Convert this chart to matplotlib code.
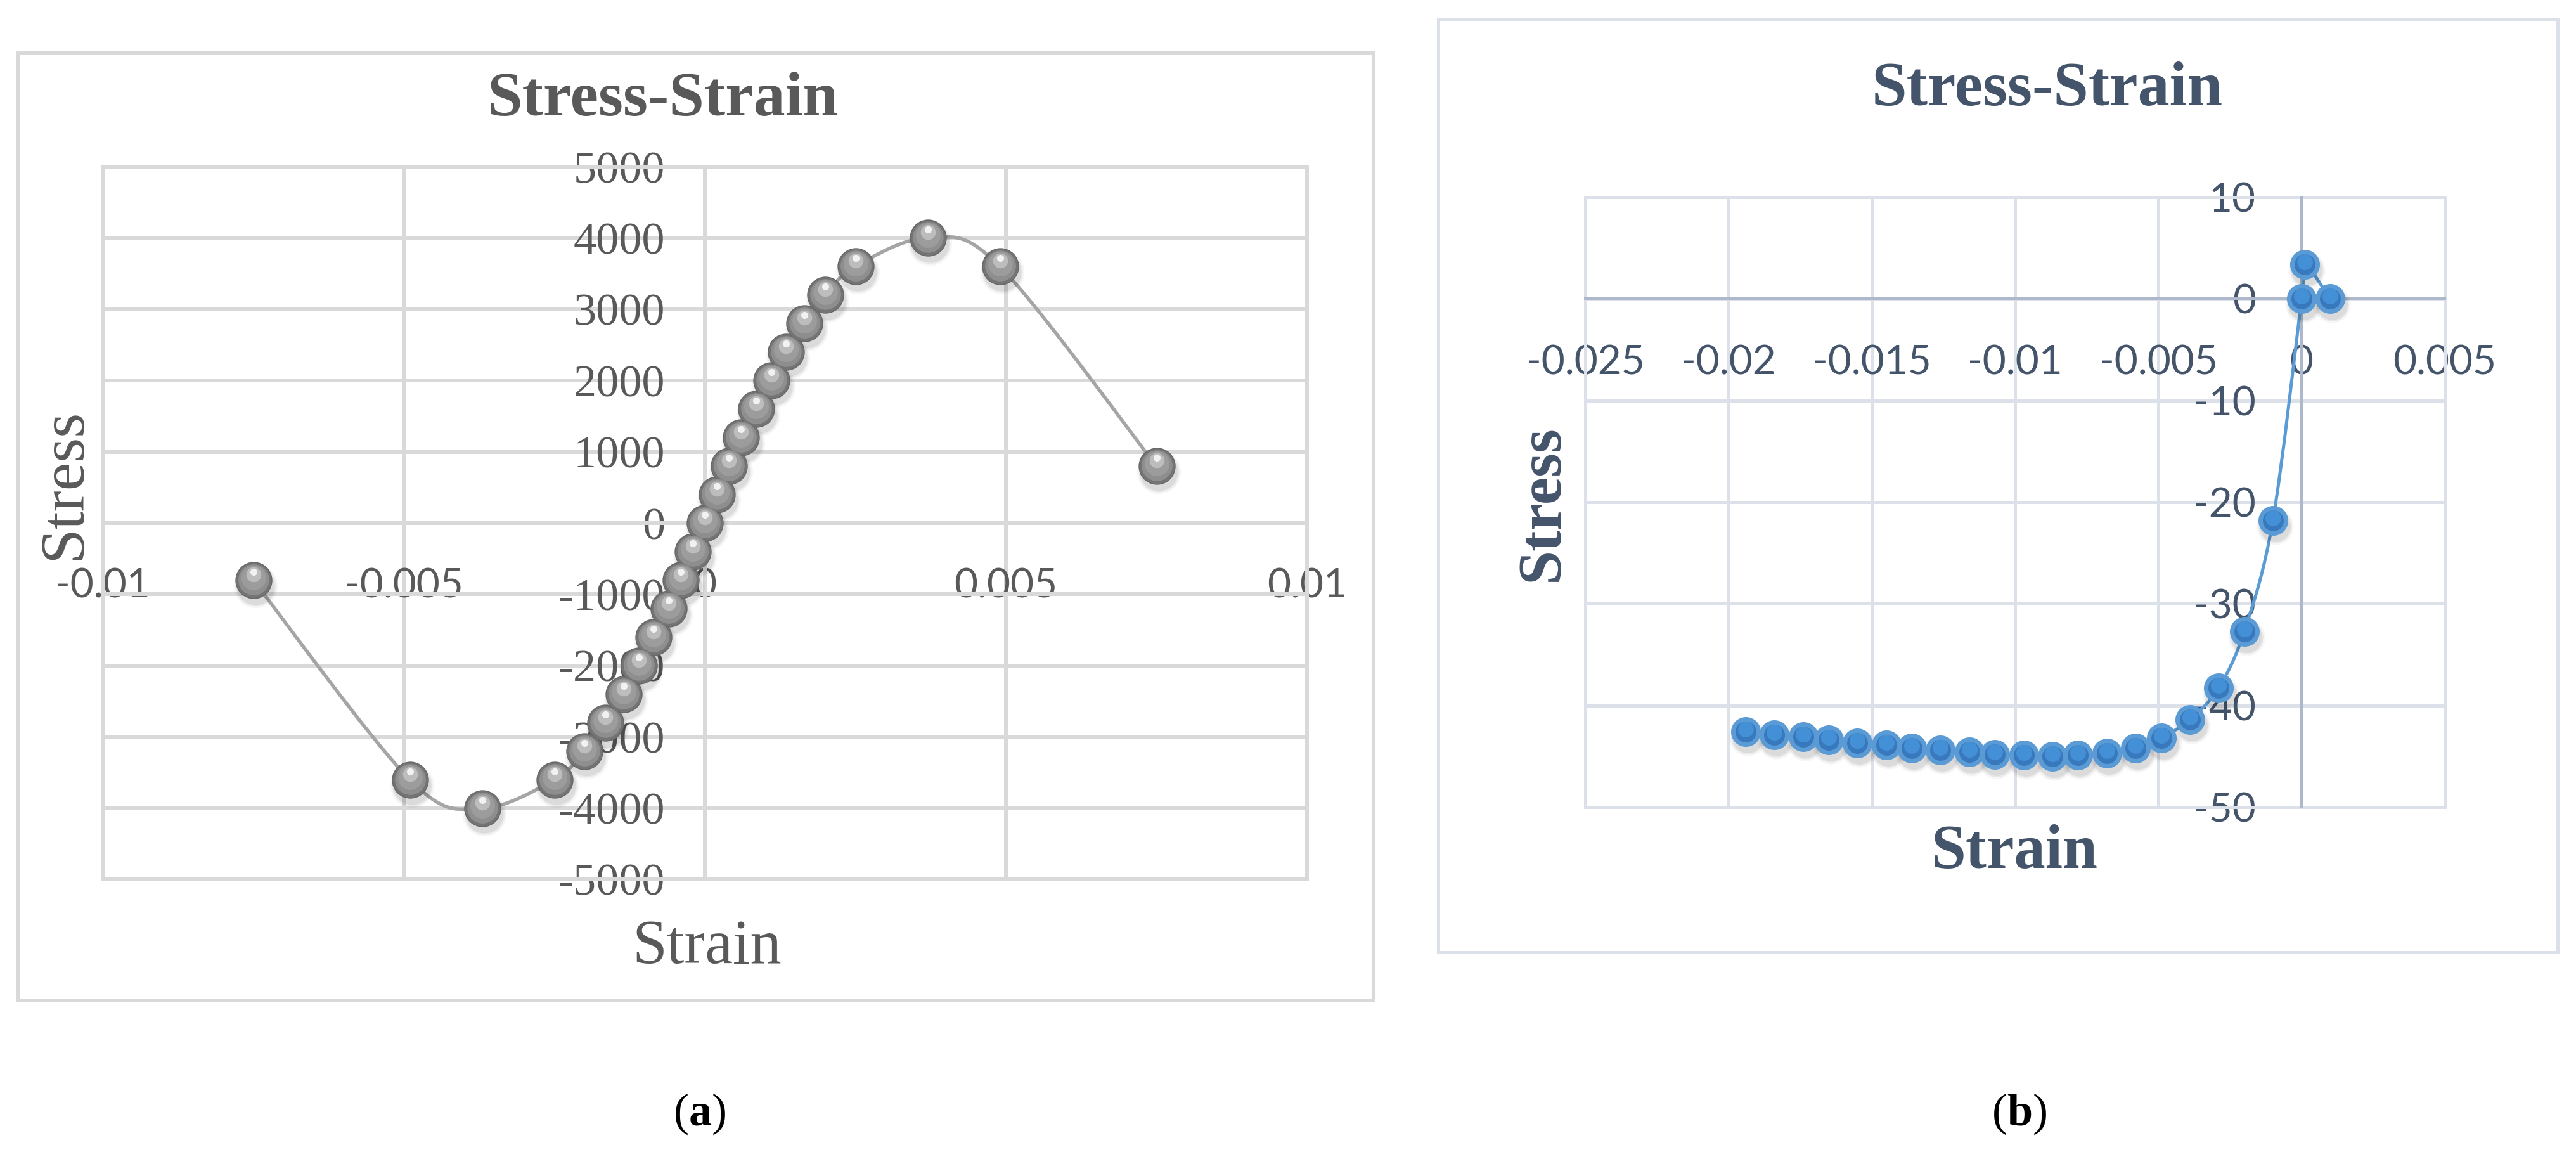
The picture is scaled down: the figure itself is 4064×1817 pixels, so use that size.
"""Two Excel-style stress-strain charts side by side, labelled (a) and (b)."""

import matplotlib

matplotlib.use("Agg")

import matplotlib.pyplot as plt  # noqa: E402
import numpy as np  # noqa: E402
from matplotlib.patches import PathPatch, Rectangle  # noqa: E402
from matplotlib.path import Path  # noqa: E402
from matplotlib.transforms import offset_copy  # noqa: E402

W, H = 4064, 1817
DPI = 100

# ---- data, panel (a) -------------------------------------------------------
STRAIN_A = [-0.0075, -0.0049, -0.0037, -0.0025, -0.0020, -0.00165, -0.00135,
            -0.0011, -0.00085, -0.0006, -0.0004, -0.0002, 0.0, 0.0002, 0.0004,
            0.0006, 0.00085, 0.0011, 0.00135, 0.00165, 0.0020, 0.0025, 0.0037,
            0.0049, 0.0075]
STRESS_A = [-800, -3600, -4000, -3600, -3200, -2800, -2400, -2000, -1600,
            -1200, -800, -400, 0, 400, 800, 1200, 1600, 2000, 2400, 2800,
            3200, 3600, 4000, 3600, 800]
XTICKS_A = [-0.01, -0.005, 0.0, 0.005, 0.01]
XLABELS_A = ["-0.01", "-0.005", "0", "0.005", "0.01"]
YTICKS_A = [-5000, -4000, -3000, -2000, -1000, 0, 1000, 2000, 3000, 4000, 5000]
YLABELS_A = ["-5000", "-4000", "-3000", "-2000", "-1000", "0", "1000", "2000",
             "3000", "4000", "5000"]

# ---- data, panel (b) -------------------------------------------------------
STRAIN_B = [-0.0194, -0.0184, -0.0174, -0.0165, -0.0155, -0.0145, -0.0136,
            -0.0126, -0.0116, -0.0107, -0.0097, -0.0087, -0.0078, -0.0068,
            -0.0058, -0.0049, -0.0039, -0.0029, -0.0020, -0.0010, 0.0, 0.0001,
            0.0010]
STRESS_B = [-42.6, -42.9, -43.1, -43.4, -43.7, -43.9, -44.2, -44.4, -44.6,
            -44.8, -44.9, -45.0, -44.9, -44.7, -44.2, -43.2, -41.4, -38.3,
            -32.7, -21.8, 0.0, 3.4, 0.0]
XTICKS_B = [-0.025, -0.02, -0.015, -0.01, -0.005, 0.0, 0.005]
XLABELS_B = ["-0.025", "-0.02", "-0.015", "-0.01", "-0.005", "0", "0.005"]
YTICKS_B = [-50, -40, -30, -20, -10, 0, 10]
YLABELS_B = ["-50", "-40", "-30", "-20", "-10", "0", "10"]

TITLE = "Stress-Strain"
XLABEL = "Strain"
YLABEL = "Stress"

GREY_TEXT = "#595959"
GREY_GRID = "#D9D9D9"
SLATE_TEXT = "#44546A"
SLATE_GRID = "#DCE1E9"
SLATE_AXIS = "#ADB9CA"
BLUE = "#5B9BD5"

plt.rcParams["mathtext.fontset"] = "custom"
plt.rcParams["mathtext.rm"] = "Liberation Serif"
plt.rcParams["mathtext.bf"] = "Liberation Serif:bold"


def fx(px):
    return px / W


def fy(py):
    return 1 - py / H


def pt(px):
    return px * 72 / DPI


def smooth_path(xs, ys):
    """Excel-like smoothed line: Catmull-Rom segments as cubic Beziers."""
    pts = np.column_stack([xs, ys]).astype(float)
    n = len(pts)
    verts, codes = [pts[0]], [Path.MOVETO]
    for i in range(n - 1):
        p0, p1 = pts[max(i - 1, 0)], pts[i]
        p2, p3 = pts[i + 1], pts[min(i + 2, n - 1)]
        verts += [p1 + (p2 - p0) / 6, p2 - (p3 - p1) / 6, p2]
        codes += [Path.CURVE4] * 3
    return Path(verts, codes)


def style_axes(ax, xlim, ylim, xticks, xlabels, yticks, ylabels, grid, axis_col,
               text_col, xfont, xsize, yfont, ysize, xpad, ypad, grid_px, axis_px):
    # spines first: moving them regenerates the tick objects
    for side in ("top", "right"):
        ax.spines[side].set_visible(False)
    for side in ("left", "bottom"):
        ax.spines[side].set_position(("data", 0))
        ax.spines[side].set_color(axis_col)
        ax.spines[side].set_linewidth(pt(axis_px))
    ax.set_xlim(*xlim)
    ax.set_ylim(*ylim)
    ax.set_axisbelow(True)
    ax.set_xticks(xticks, xlabels)
    ax.set_yticks(yticks, ylabels)
    ax.tick_params(axis="x", length=0, pad=xpad, labelsize=xsize,
                   labelcolor=text_col, labelfontfamily=xfont)
    ax.tick_params(axis="y", length=0, pad=ypad, labelsize=ysize,
                   labelcolor=text_col, labelfontfamily=yfont)
    ax.grid(True, color=grid, linewidth=pt(grid_px))
    ax.add_patch(Rectangle((0, 0), 1, 1, transform=ax.transAxes, fill=False,
                           edgecolor=grid, linewidth=pt(grid_px), clip_on=False,
                           zorder=0.6))


def layer(ax, fig, x, y, dx, dy, z, **kw):
    tr = offset_copy(ax.transData, fig=fig, x=dx, y=dy, units="dots")
    ax.plot(x, y, linestyle="none", marker="o", transform=tr, zorder=z,
            clip_on=False, **kw)


fig = plt.figure(figsize=(W / DPI, H / DPI), dpi=DPI)
fig.patch.set_facecolor("white")

# chart frames
fig.add_artist(Rectangle((fx(28), fy(1578)), fx(2167 - 28), (1578 - 84) / H,
                         transform=fig.transFigure, fill=False,
                         edgecolor=GREY_GRID, linewidth=pt(6)))
fig.add_artist(Rectangle((fx(2269), fy(1502)), fx(4035 - 2269), (1502 - 30) / H,
                         transform=fig.transFigure, fill=False,
                         edgecolor=SLATE_GRID, linewidth=pt(5)))

# ---- panel (a) -------------------------------------------------------------
ax_a = fig.add_axes([fx(162), fy(1387), fx(2062 - 162), (1387 - 263) / H])
style_axes(ax_a, (-0.01, 0.01), (-5000, 5000), XTICKS_A, XLABELS_A, YTICKS_A,
           YLABELS_A, GREY_GRID, GREY_GRID, GREY_TEXT,
           "Lato", 46, "Liberation Serif", 52, pt(70), pt(63), 6, 6)
ax_a.add_patch(PathPatch(smooth_path(STRAIN_A, STRESS_A), fill=False,
                         edgecolor="#A5A5A5", linewidth=pt(5.5), zorder=3))
for ms, a in ((50, 0.035), (46, 0.05), (43, 0.06)):
    layer(ax_a, fig, STRAIN_A, STRESS_A, 3, -9, 3.5, markersize=ms,
          markerfacecolor="black", markeredgewidth=0, alpha=a)
layer(ax_a, fig, STRAIN_A, STRESS_A, 0, 0, 4, markersize=41,
      markerfacecolor="#747474", markeredgecolor="#666666", markeredgewidth=1)
layer(ax_a, fig, STRAIN_A, STRESS_A, 0, 1, 4.1, markersize=35,
      markerfacecolor="#8E8E8E", markeredgewidth=0)
layer(ax_a, fig, STRAIN_A, STRESS_A, 0, 4, 4.2, markersize=28,
      markerfacecolor="#9C9C9C", markeredgewidth=0)
layer(ax_a, fig, STRAIN_A, STRESS_A, 0, 9, 4.3, markersize=17,
      markerfacecolor="#BDBDBD", markeredgewidth=0)
layer(ax_a, fig, STRAIN_A, STRESS_A, 0, 13, 4.4, markersize=8,
      markerfacecolor="#F2F2F2", markeredgewidth=0)

fig.text(fx(1046), fy(158), TITLE, ha="center", va="center", fontsize=72,
         fontweight="bold", family="Liberation Serif", color=GREY_TEXT)
fig.text(fx(102), fy(763), YLABEL, ha="center", va="center", rotation=90,
         fontsize=72, family="Liberation Serif", color=GREY_TEXT)
fig.text(fx(1115), fy(1495), XLABEL, ha="center", va="center", fontsize=71,
         family="Liberation Serif", color=GREY_TEXT)

# ---- panel (b) -------------------------------------------------------------
ax_b = fig.add_axes([fx(2501), fy(1273), fx(3857 - 2501), (1273 - 311) / H])
style_axes(ax_b, (-0.025, 0.005), (-50, 10), XTICKS_B, XLABELS_B, YTICKS_B,
           YLABELS_B, SLATE_GRID, SLATE_AXIS, SLATE_TEXT,
           "Lato", 46, "Lato", 46, pt(72), pt(72), 5, 4)
ax_b.add_patch(PathPatch(smooth_path(STRAIN_B, STRESS_B), fill=False,
                         edgecolor=BLUE, linewidth=pt(5), zorder=3))
for ms, a in ((42, 0.035), (38, 0.05), (35, 0.06)):
    layer(ax_b, fig, STRAIN_B, STRESS_B, 3, -9, 3.5, markersize=ms,
          markerfacecolor="black", markeredgewidth=0, alpha=a)
layer(ax_b, fig, STRAIN_B, STRESS_B, 0, 0, 4, markersize=pt(40),
      markerfacecolor="#3878BC", markeredgecolor=BLUE, markeredgewidth=pt(7))
layer(ax_b, fig, STRAIN_B, STRESS_B, 0, 4, 4.1, markersize=pt(25),
      markerfacecolor="#4593DA", markeredgewidth=0, alpha=0.9)

fig.text(fx(3230), fy(142), TITLE, ha="center", va="center", fontsize=72,
         fontweight="bold", family="Liberation Serif", color=SLATE_TEXT)
fig.text(fx(2434), fy(794), YLABEL, ha="center", va="center", rotation=90,
         fontsize=70, fontweight="bold", family="Liberation Serif",
         color=SLATE_TEXT)
fig.text(fx(3178), fy(1345), XLABEL, ha="center", va="center", fontsize=71,
         fontweight="bold", family="Liberation Serif", color=SLATE_TEXT)

# ---- captions ----------------------------------------------------------------
fig.text(fx(1104), fy(1757), r"$\mathrm{(}\mathbf{a}\mathrm{)}$", ha="center",
         va="center", fontsize=52, color="black")
fig.text(fx(3186), fy(1757), r"$\mathrm{(}\mathbf{b}\mathrm{)}$", ha="center",
         va="center", fontsize=52, color="black")

fig.savefig("out.png", dpi=DPI, facecolor="white")
